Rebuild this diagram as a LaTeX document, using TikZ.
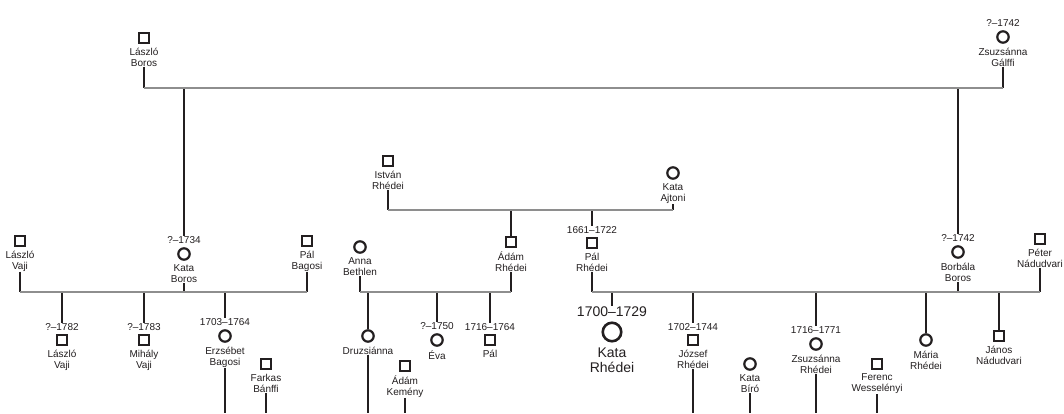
\documentclass[tikz,border=0pt]{standalone}
\usepackage{fontspec}
\setmainfont{Liberation Sans}
\usetikzlibrary{positioning}
\definecolor{Ink}{HTML}{231F20}
\definecolor{Bar}{HTML}{8E8E8E}
\begin{document}
\begin{tikzpicture}[x=1pt,y=-1pt,font=\fontsize{10}{11}\selectfont,text=Ink,male/.style={draw=Ink,fill=white,rectangle,line width=2.2pt,minimum size=9.4pt,inner sep=0pt},female/.style={draw=Ink,fill=white,circle,line width=2.2pt,minimum size=11.4pt,inner sep=0pt},who/.style={align=center,inner sep=0pt},when/.style={inner sep=0pt},link/.style={draw=Ink,line width=2.2pt},bar/.style={draw=Bar,line width=2.4pt}]
\fill[white] (0,0) rectangle (1064,413);
\useasboundingbox (0,0) rectangle (1064,413);
\coordinate (b1) at (0,88);\coordinate (b2) at (0,210);\coordinate (b3) at (0,292);\coordinate (bot) at (0,413);
% Boros / Galffi
\node[male] (lboros) at (144,38){};
\node[who,below=4pt of lboros] (lborosn){László\\Boros};
\node[female] (zgalffi) at (1003,37){};
\node[when,above=3.5pt of zgalffi] (zgalffid){?–1742};
\node[who,below=4pt of zgalffi] (zgalffin){Zsuzsánna\\Gálffi};
% Rhedei / Ajtoni
\node[male] (irhedei) at (388,161){};
\node[who,below=4pt of irhedei] (irhedein){István\\Rhédei};
\node[female] (kajtoni) at (673,173){};
\node[who,below=4pt of kajtoni] (kajtonin){Kata\\Ajtoni};
% third row
\node[male] (lvaji) at (20,241){};
\node[who,below=4pt of lvaji] (lvajin){László\\Vaji};
\node[female] (kboros) at (184,254){};
\node[when,above=3.5pt of kboros] (kborosd){?–1734};
\node[who,below=4pt of kboros] (kborosn){Kata\\Boros};
\node[male] (pbagosi) at (307,241){};
\node[who,below=4pt of pbagosi] (pbagosin){Pál\\Bagosi};
\node[female] (abethlen) at (360,247){};
\node[who,below=4pt of abethlen] (abethlenn){Anna\\Bethlen};
\node[male] (arhedei) at (511,242){};
\node[who,below=4pt of arhedei] (arhedein){Ádám\\Rhédei};
\node[male] (prhedei) at (592,243){};
\node[when,above=3.5pt of prhedei] (prhedeid){1661–1722};
\node[who,below=4pt of prhedei] (prhedein){Pál\\Rhédei};
\node[female] (bboros) at (958,252){};
\node[when,above=3.5pt of bboros] (bborosd){?–1742};
\node[who,below=4pt of bboros] (bborosn){Borbála\\Boros};
\node[male] (pnadudvari) at (1040,239){};
\node[who,below=4pt of pnadudvari] (pnadudvarin){Péter\\Nádudvari};
% fourth row
\node[male] (lvajij) at (62,340){};
\node[when,above=3.5pt of lvajij] (lvajijd){?–1782};
\node[who,below=4pt of lvajij] (lvajijn){László\\Vaji};
\node[male] (mvaji) at (144,340){};
\node[when,above=3.5pt of mvaji] (mvajid){?–1783};
\node[who,below=4pt of mvaji] (mvajin){Mihály\\Vaji};
\node[female] (ebagosi) at (225,336){};
\node[when,above=3.5pt of ebagosi] (ebagosid){1703–1764};
\node[who,below=4pt of ebagosi] (ebagosin){Erzsébet\\Bagosi};
\node[male] (fbanffi) at (266,364){};
\node[who,below=4pt of fbanffi] (fbanffin){Farkas\\Bánffi};
\node[female] (druzs) at (368,336){};
\node[who,below=4pt of druzs] (druzsn){Druzsiánna};
\node[male] (akemeny) at (405,366){};
\node[who,below=4pt of akemeny] (akemenyn){Ádám\\Kemény};
\node[female] (eva) at (437,340){};
\node[when,above=3.5pt of eva] (evad){?–1750};
\node[who,below=4pt of eva] (evan){Éva};
\node[male] (pal) at (490,340){};
\node[when,above=3.5pt of pal] (pald){1716–1764};
\node[who,below=4pt of pal] (paln){Pál};
\node[female,minimum size=18.5pt,line width=2.6pt] (krhedei) at (612,332){};
\node[when,font=\fontsize{14}{15}\selectfont,above=5pt of krhedei] (krhedeid){1700–1729};
\node[who,font=\fontsize{14}{15}\selectfont,below=5pt of krhedei] (krhedein){Kata\\Rhédei};
\node[male] (jrhedei) at (693,340){};
\node[when,above=3.5pt of jrhedei] (jrhedeid){1702–1744};
\node[who,below=4pt of jrhedei] (jrhedein){József\\Rhédei};
\node[female] (kbiro) at (750,364){};
\node[who,below=4pt of kbiro] (kbiron){Kata\\Bíró};
\node[female] (zrhedei) at (816,344){};
\node[when,above=3.5pt of zrhedei] (zrhedeid){1716–1771};
\node[who,below=4pt of zrhedei] (zrhedein){Zsuzsánna\\Rhédei};
\node[male] (fwess) at (877,364){};
\node[who,below=4pt of fwess] (fwessn){Ferenc\\Wesselényi};
\node[female] (mrhedei) at (926,340){};
\node[who,below=4pt of mrhedei] (mrhedein){Mária\\Rhédei};
\node[male] (jnadud) at (999,336){};
\node[who,below=4pt of jnadud] (jnadudn){János\\Nádudvari};
% spouses down to the bars
\draw[link] (lborosn.south) -- (lborosn.south |- b1);\draw[link] (zgalffin.south) -- (zgalffin.south |- b1);
\draw[link] (irhedein.south) -- (irhedein.south |- b2);\draw[link] (kajtonin.south) -- (kajtonin.south |- b2);
\draw[link] (lvajin.south) -- (lvajin.south |- b3);\draw[link] (kborosn.south) -- (kborosn.south |- b3);\draw[link] (pbagosin.south) -- (pbagosin.south |- b3);
\draw[link] (abethlenn.south) -- (abethlenn.south |- b3);\draw[link] (arhedein.south) -- (arhedein.south |- b3);
\draw[link] (prhedein.south) -- (prhedein.south |- b3);\draw[link] (bborosn.south) -- (bborosn.south |- b3);\draw[link] (pnadudvarin.south) -- (pnadudvarin.south |- b3);
% children
\draw[link] (b1 -| kborosd) -- (kborosd.north);\draw[link] (b1 -| bborosd) -- (bborosd.north);
\draw[link] (b2 -| arhedei) -- (arhedei.north);\draw[link] (b2 -| prhedeid) -- (prhedeid.north);
\draw[link] (b3 -| lvajijd) -- (lvajijd.north);\draw[link] (b3 -| mvajid) -- (mvajid.north);\draw[link] (b3 -| ebagosid) -- (ebagosid.north);
\draw[link] (b3 -| druzs) -- (druzs.north);\draw[link] (b3 -| evad) -- (evad.north);\draw[link] (b3 -| pald) -- (pald.north);
\draw[link] (b3 -| krhedeid) -- (krhedeid.north);\draw[link] (b3 -| jrhedeid) -- (jrhedeid.north);\draw[link] (b3 -| zrhedeid) -- (zrhedeid.north);\draw[link] (b3 -| mrhedei) -- (mrhedei.north);\draw[link] (b3 -| jnadud) -- (jnadud.north);
% lines running off the bottom
\draw[link] (ebagosin.south) -- (ebagosin.south |- bot);\draw[link] (fbanffin.south) -- (fbanffin.south |- bot);
\draw[link] (druzsn.south) -- (druzsn.south |- bot);\draw[link] (akemenyn.south) -- (akemenyn.south |- bot);
\draw[link] (jrhedein.south) -- (jrhedein.south |- bot);\draw[link] (kbiron.south) -- (kbiron.south |- bot);
\draw[link] (zrhedein.south) -- (zrhedein.south |- bot);\draw[link] (fwessn.south) -- (fwessn.south |- bot);
% bars
\draw[bar] (b1 -| lboros) -- (b1 -| zgalffi);
\draw[bar] (b2 -| irhedei) -- (b2 -| kajtoni);
\draw[bar] (b3 -| lvaji) -- (b3 -| pbagosi);
\draw[bar] (b3 -| abethlen) -- (b3 -| arhedei);
\draw[bar] (b3 -| prhedei) -- (b3 -| pnadudvari);
\end{tikzpicture}
\end{document}
